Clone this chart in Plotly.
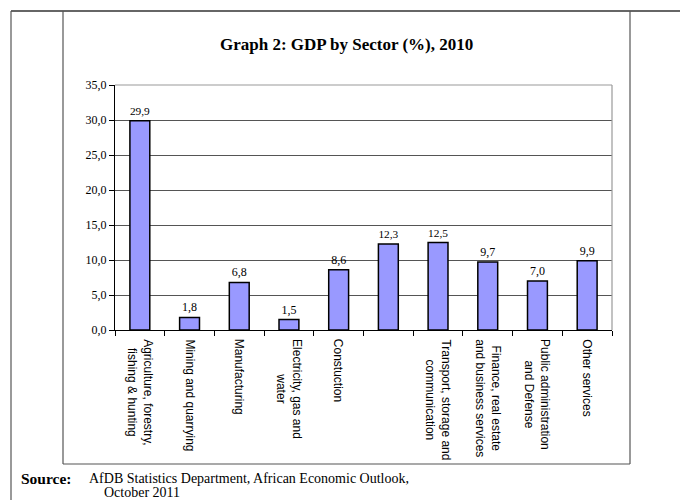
import plotly.graph_objects as go

# Sector labels (the sixth sector has no printed name)
sectors = [
    "Agriculture, forestry,<br>fishing & hunting",
    "Mining and quarrying",
    "Manufacturing",
    "Electricity, gas and<br>water",
    "Constuction",
    " ",
    "Transport, storage and<br>communication",
    "Finance, real estate<br>and business services",
    "Public administration<br>and Defense",
    "Other services",
]
gdp_share = [29.9, 1.8, 6.8, 1.5, 8.6, 12.3, 12.5, 9.7, 7.0, 9.9]
y_ticks = [0, 5, 10, 15, 20, 25, 30, 35]

W, H = 680, 500
L, R, T, B = 115, 612, 85, 330  # plot area in pixels


def px_x(p):
    return (p - L) / (R - L)


def px_y(p):
    return (B - p) / (B - T)


fig = go.Figure(
    go.Bar(
        x=sectors,
        y=gdp_share,
        marker=dict(color="#9999FF", line=dict(color="black", width=1.5)),
        text=gdp_share,
        texttemplate="%{y:.1f}",
        textposition="outside",
        textfont=dict(family="Liberation Serif", size=12, color="black"),
        cliponaxis=False,
        width=0.4,
    )
)

shapes = []
# page frame lines
frame = [
    (11, 11, 680, 11, "#333333", 1.6),   # top rule
    (11, 11, 11, 500, "#555555", 1.2),   # outer left
    (63, 11, 63, 464, "#555555", 1.2),   # inner left
    (630, 11, 630, 464, "#555555", 1.2), # inner right
    (63, 464, 630, 464, "#555555", 1.2), # inner bottom
]
for x0, y0, x1, y1, col, w in frame:
    shapes.append(dict(type="line", xref="paper", yref="paper",
                       x0=px_x(x0), y0=px_y(y0), x1=px_x(x1), y1=px_y(y1),
                       line=dict(color=col, width=w)))
# light frame around the plot area (top and right)
shapes.append(dict(type="line", xref="paper", yref="paper", x0=0, y0=1, x1=1, y1=1,
                   line=dict(color="#999999", width=1.2), layer="above"))
shapes.append(dict(type="line", xref="paper", yref="paper", x0=1, y0=0, x1=1, y1=1,
                   line=dict(color="#999999", width=1.2), layer="above"))

annotations = [
    dict(text="<b>Graph 2: GDP by Sector (%), 2010</b>", xref="paper", yref="paper",
         x=px_x(346), y=px_y(44), xanchor="center", yanchor="middle", showarrow=False,
         font=dict(family="Liberation Serif", size=17, color="black")),
    dict(text="<b>Source:</b>", xref="paper", yref="paper",
         x=px_x(19), y=px_y(478), xanchor="left", yanchor="middle", showarrow=False,
         font=dict(family="Liberation Serif", size=15.5, color="black")),
    dict(text="AfDB Statistics Department, African Economic Outlook,", xref="paper", yref="paper",
         x=px_x(87), y=px_y(478), xanchor="left", yanchor="middle", showarrow=False,
         font=dict(family="Liberation Serif", size=14, color="black")),
    dict(text="October 2011", xref="paper", yref="paper",
         x=px_x(102), y=px_y(492), xanchor="left", yanchor="middle", showarrow=False,
         font=dict(family="Liberation Serif", size=14, color="black")),
]

# rotated, centre-aligned category labels under each bar
for name in sectors:
    annotations.append(dict(
        text=name, x=name, xref="x", y=px_y(337), yref="paper",
        xanchor="center", yanchor="top", textangle=90, align="center",
        showarrow=False,
        font=dict(family="Liberation Sans", size=12, color="black"),
    ))

fig.update_layout(
    width=W, height=H,
    margin=dict(l=L, r=W - R, t=T, b=H - B, pad=0),
    paper_bgcolor="white", plot_bgcolor="white",
    separators=",.",
    showlegend=False,
    shapes=shapes,
    annotations=annotations,
    bargap=0.6,
)
fig.update_xaxes(
    type="category",
    showticklabels=False,
    tickson="boundaries",
    ticks="outside", ticklen=5, tickcolor="black",
    showline=True, linecolor="black", linewidth=1,
    showgrid=False,
)
fig.update_yaxes(
    range=[0, 35],
    tickvals=y_ticks,
    tickformat=".1f",
    ticks="outside", ticklen=5, tickcolor="black",
    showline=True, linecolor="black", linewidth=1.2,
    showgrid=True, gridcolor="#555555", gridwidth=1,
    zeroline=False,
    tickfont=dict(family="Liberation Serif", size=12, color="black"),
)

fig.write_html("out.html")
